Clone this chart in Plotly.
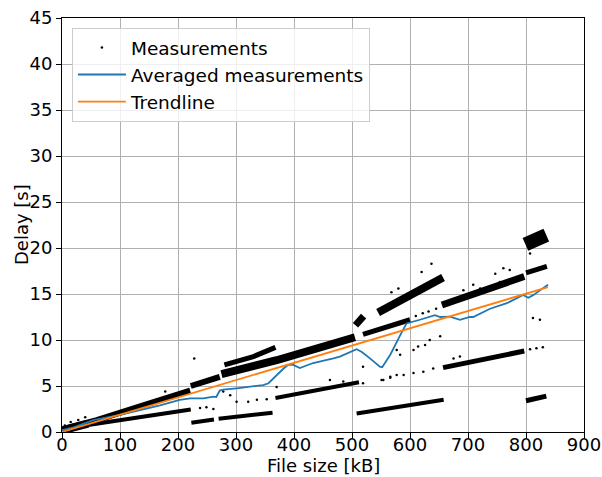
import plotly.graph_objects as go

# ---------------- data ----------------
# Averaged measurements (blue)
avg_x = [0, 20, 54, 100, 169, 203, 221, 244, 261, 266, 272, 278, 301, 347, 356, 367, 382,
         390, 399, 410, 433, 468, 479, 508, 517, 531, 548, 552, 560, 566, 583, 594, 617,
         643, 652, 669, 686, 703, 709, 738, 767, 795, 804, 813, 833, 838]
avg_y = [0.2, 0.5, 1.3, 1.85, 2.9, 3.5, 3.65, 3.65, 3.85, 3.8, 4.5, 4.6, 4.75, 5.1, 5.3, 6.0, 6.9,
         7.3, 7.3, 6.95, 7.5, 8.0, 8.2, 9.0, 8.7, 8.0, 7.1, 7.05, 7.8, 8.4, 10.5, 11.8, 12.2,
         12.7, 12.5, 12.55, 12.2, 12.5, 12.5, 13.4, 14.0, 14.9, 14.6, 14.9, 15.8, 16.0]

# Trendline (orange)
trend_x = [0, 838]
trend_y = [0.0, 15.75]

# Dense measurement bands (centre lines of the point clouds)
band_a0_x = [2, 45];            band_a0_y = [0.2, 0.9]
band_a1_x = [0, 60, 140, 221];  band_a1_y = [0.3, 1.3, 2.9, 4.5]
band_b1_x = [45, 120, 222];     band_b1_y = [0.75, 1.45, 2.45]
band_c1_x = [223, 262];         band_c1_y = [1.0, 1.35]
band_c2_x = [270, 363];         band_c2_y = [1.45, 2.1]
band_a2a_x = [222, 272];        band_a2a_y = [5.0, 6.0]
band_a2_x = [275, 370, 505];    band_a2_y = [6.3, 7.8, 10.3]
band_a2u_x = [280, 330, 368];   band_a2u_y = [7.3, 8.2, 9.2]
band_b2_x = [368, 512];         band_b2_y = [3.7, 5.4]
band_c3_x = [508, 658];         band_c3_y = [2.0, 3.5]
band_u1_x = [506, 520];         band_u1_y = [11.6, 12.6]
band_m1_x = [519, 600];         band_m1_y = [10.6, 12.2]
band_u2_x = [545, 657];         band_u2_y = [13.0, 16.8]
band_b3_x = [657, 797];         band_b3_y = [7.0, 8.8]
band_m2_x = [655, 797];         band_m2_y = [13.8, 16.9]
band_m2b_x = [800, 836];        band_m2b_y = [17.3, 18.0]
band_u3_x = [799, 835];         band_u3_y = [20.4, 21.4]
band_c4_x = [800, 835];         band_c4_y = [3.4, 3.9]

# Scattered individual measurements
meas_x = [5, 15, 28, 40, 178, 228, 238, 249, 261, 278,
          290, 301, 321, 336, 353, 370, 462, 485, 519, 519,
          554, 566, 551, 566, 577, 589, 606, 623, 640, 577,
          583, 606, 614, 626, 634, 652, 675, 686, 610, 622,
          632, 645, 568, 580, 620, 637, 692, 709, 721, 747,
          755, 761, 772, 807, 818, 829, 812, 824, 807]
meas_y = [0.7, 1.1, 1.3, 1.6, 4.4, 8.0, 2.6, 2.7, 2.5, 4.4,
          4.0, 3.3, 3.3, 3.5, 3.55, 4.9, 5.65, 5.5, 7.1, 5.3,
          5.65, 5.9, 5.65, 6.0, 6.2, 6.2, 6.4, 6.55, 6.9, 8.9,
          8.4, 8.9, 9.3, 9.45, 10.0, 10.4, 8.0, 8.2, 12.6, 12.9,
          13.1, 13.4, 15.2, 15.6, 17.4, 18.3, 15.4, 16.0, 15.6, 17.2,
          16.3, 17.8, 17.6, 9.0, 9.1, 9.2, 12.4, 12.2, 19.4]

x_ticks = [0, 100, 200, 300, 400, 500, 600, 700, 800, 900]
y_ticks = [0, 5, 10, 15, 20, 25, 30, 35, 40, 45]

# ---------------- figure ----------------
bands = [
    (band_a0_x, band_a0_y, 8), (band_a1_x, band_a1_y, 6), (band_b1_x, band_b1_y, 4),
    (band_c1_x, band_c1_y, 4), (band_c2_x, band_c2_y, 4), (band_a2a_x, band_a2a_y, 6),
    (band_a2_x, band_a2_y, 8), (band_a2u_x, band_a2u_y, 5), (band_b2_x, band_b2_y, 4),
    (band_c3_x, band_c3_y, 4), (band_u1_x, band_u1_y, 7), (band_m1_x, band_m1_y, 5),
    (band_u2_x, band_u2_y, 8), (band_b3_x, band_b3_y, 5), (band_m2_x, band_m2_y, 7),
    (band_m2b_x, band_m2b_y, 5), (band_u3_x, band_u3_y, 14), (band_c4_x, band_c4_y, 5),
]

fig = go.Figure()
for bx, by, w in bands:
    fig.add_trace(go.Scatter(x=bx, y=by, mode="lines", line=dict(color="black", width=w),
                             showlegend=False, legendgroup="meas", hoverinfo="skip"))

fig.add_trace(go.Scatter(x=meas_x, y=meas_y, mode="markers", name="Measurements",
                         legendgroup="meas",
                         marker=dict(color="black", size=2.5)))
fig.add_trace(go.Scatter(x=avg_x, y=avg_y, mode="lines", name="Averaged measurements",
                         line=dict(color="#1f77b4", width=1.8)))
fig.add_trace(go.Scatter(x=trend_x, y=trend_y, mode="lines", name="Trendline",
                         line=dict(color="#ff7f0e", width=1.8)))

axis_common = dict(showgrid=True, gridcolor="#b0b0b0", gridwidth=1, zeroline=False,
                   showline=True, linecolor="black", linewidth=1, mirror=True,
                   ticks="outside", ticklen=5, tickcolor="black", automargin=False,
                   tickfont=dict(size=18, color="black"))

fig.update_layout(
    width=602, height=477,
    margin=dict(l=62, r=18, t=18, b=45),
    paper_bgcolor="white", plot_bgcolor="white",
    font=dict(family="DejaVu Sans", size=18, color="black"),
    legend=dict(x=0.019, y=0.976, xanchor="left", yanchor="top",
                bgcolor="rgba(255,255,255,0.8)", bordercolor="#cccccc", borderwidth=1,
                font=dict(size=18.5), itemwidth=48, tracegroupgap=0),
    xaxis=dict(range=[0, 900], tickvals=x_ticks, ticklabelstandoff=-9, **axis_common),
    yaxis=dict(range=[0, 45], tickvals=y_ticks, **axis_common),
    annotations=[
        dict(text="File size [kB]", xref="paper", yref="paper", x=0.5, y=0,
             xanchor="center", yanchor="middle", yshift=-33, showarrow=False,
             font=dict(size=18)),
        dict(text="Delay [s]", xref="paper", yref="paper", x=0, y=0.5,
             xanchor="center", yanchor="middle", xshift=-41, textangle=-90,
             showarrow=False, font=dict(size=18)),
    ],
)

fig.write_html("out.html", config={"displayModeBar": False},
               post_script="document.body.style.margin='0';document.body.style.overflow='hidden';")
